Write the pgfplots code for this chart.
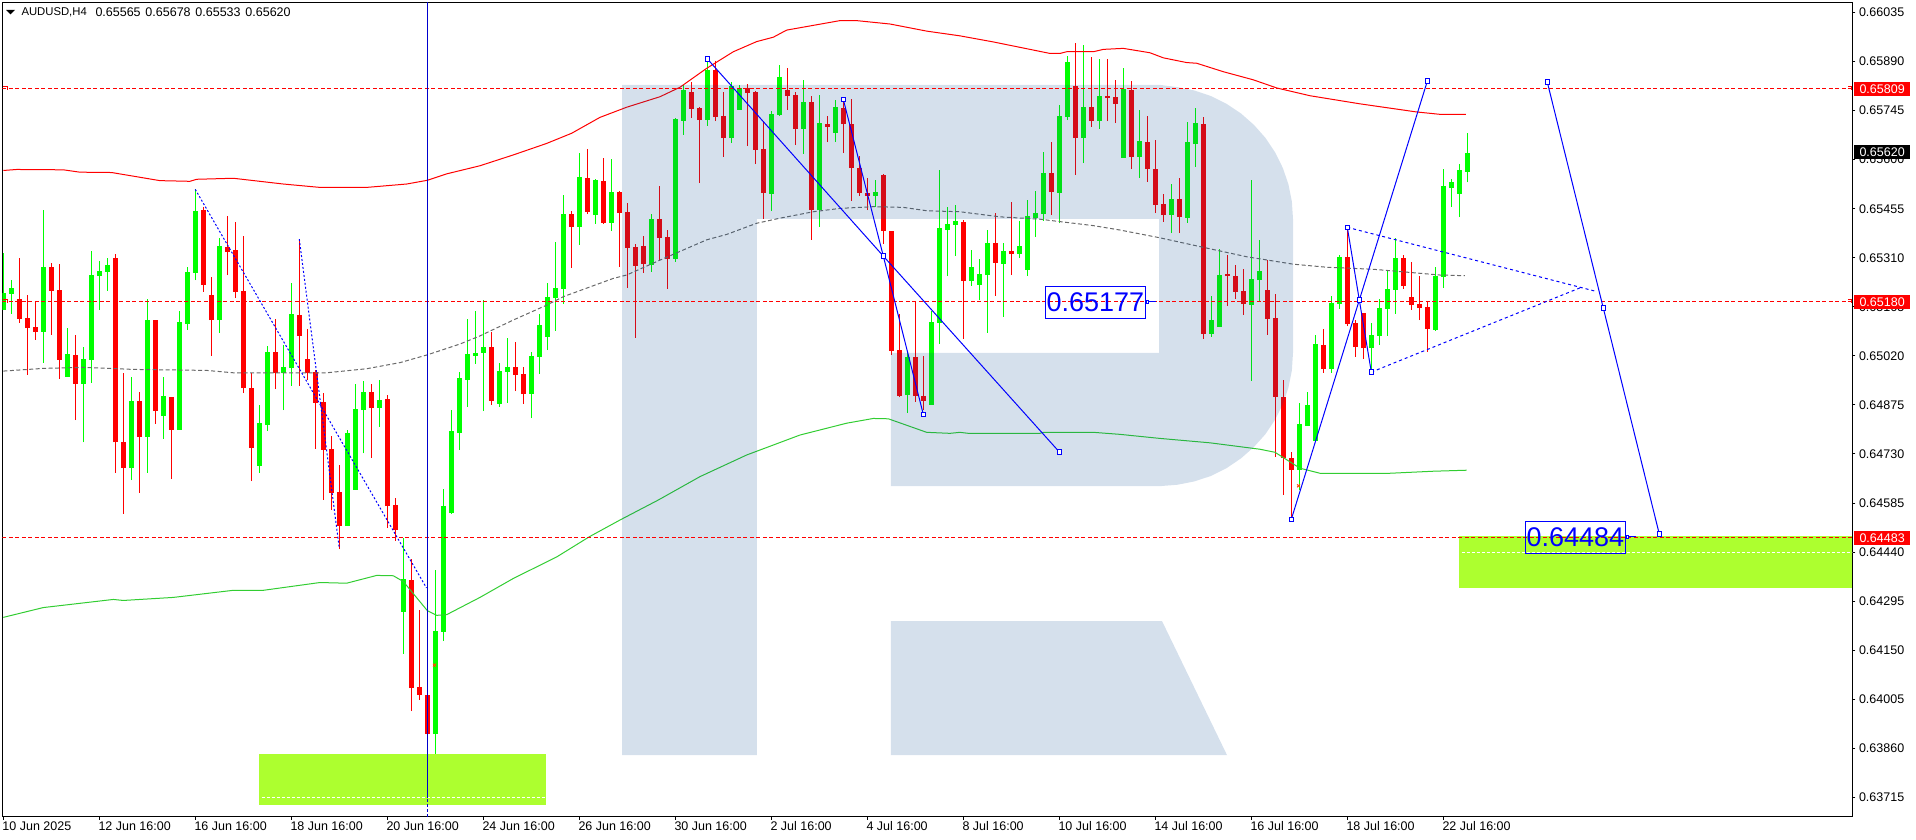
\documentclass[border=0pt]{standalone}
\usepackage{fontspec}
\setmainfont{Liberation Sans}
\usepackage{pgfplots}
\usepackage{pgfplotstable}
\pgfplotsset{compat=1.18}

\definecolor{candleup}{HTML}{00FF00}
\definecolor{candledown}{HTML}{FF0000}
\definecolor{maline}{HTML}{32CD32}
\definecolor{midline}{HTML}{696969}
\definecolor{zonefill}{HTML}{ADFF2F}
\definecolor{logo}{HTML}{08498F}
\definecolor{vline}{HTML}{0000CD}

% bars are i open high low close, i = bar number (8 px each)
\pgfplotstableread{
i o h l c
0 0.65156 0.65323 0.65156 0.65205
1 0.65203 0.65244 0.65144 0.65221
5 0.65091 0.65451 0.65000 0.65283
8 0.64958 0.65101 0.64958 0.65026
10 0.64937 0.65045 0.64764 0.65011
11 0.65008 0.65330 0.64941 0.65259
12 0.65256 0.65301 0.65156 0.65271
13 0.65268 0.65310 0.65212 0.65289
16 0.64689 0.64958 0.64653 0.64887
18 0.64781 0.65188 0.64675 0.65126
20 0.64842 0.64958 0.64774 0.64901
22 0.64801 0.65153 0.64801 0.65120
23 0.65114 0.65282 0.65097 0.65268
24 0.65265 0.65512 0.65244 0.65448
27 0.65126 0.65368 0.65088 0.65345
32 0.64695 0.64875 0.64675 0.64821
33 0.64816 0.65049 0.64799 0.65032
35 0.64968 0.65052 0.64860 0.64987
36 0.64984 0.65235 0.64931 0.65144
43 0.64517 0.64801 0.64517 0.64792
44 0.64624 0.64937 0.64624 0.64863
45 0.64860 0.64946 0.64732 0.64913
47 0.64866 0.64949 0.64811 0.64890
50 0.64263 0.64482 0.64139 0.64361
54 0.63902 0.64387 0.63840 0.64207
55 0.64204 0.64627 0.64177 0.64576
56 0.64556 0.64860 0.64553 0.64798
57 0.64792 0.64972 0.64742 0.64955
58 0.64949 0.65129 0.64869 0.65026
59 0.65020 0.65153 0.64996 0.65029
60 0.65029 0.65185 0.64857 0.65046
62 0.64878 0.65000 0.64869 0.64975
63 0.64972 0.65073 0.64881 0.64987
66 0.64907 0.65032 0.64836 0.65020
67 0.65017 0.65144 0.64966 0.65111
68 0.65076 0.65234 0.65037 0.65194
69 0.65191 0.65357 0.65094 0.65221
70 0.65218 0.65496 0.65173 0.65439
72 0.65401 0.65620 0.65348 0.65549
74 0.65436 0.65543 0.65410 0.65540
76 0.65413 0.65602 0.65389 0.65504
81 0.65289 0.65439 0.65268 0.65425
84 0.65306 0.65722 0.65298 0.65720
85 0.65714 0.65821 0.65673 0.65806
88 0.65717 0.65895 0.65700 0.65865
91 0.65664 0.65830 0.65649 0.65818
92 0.65747 0.65821 0.65747 0.65812
96 0.65499 0.65744 0.65448 0.65735
97 0.65732 0.65880 0.65729 0.65844
100 0.65691 0.65836 0.65617 0.65771
102 0.65451 0.65791 0.65401 0.65708
104 0.65679 0.65776 0.65652 0.65755
109 0.65493 0.65540 0.65460 0.65504
113 0.64904 0.65028 0.64851 0.65017
116 0.64875 0.65153 0.64875 0.65120
117 0.65117 0.65570 0.65055 0.65398
118 0.65392 0.65460 0.65256 0.65410
119 0.65407 0.65466 0.65315 0.65419
121 0.65241 0.65333 0.65227 0.65283
122 0.65230 0.65306 0.65185 0.65262
123 0.65259 0.65392 0.65088 0.65354
125 0.65292 0.65354 0.65135 0.65330
127 0.65321 0.65419 0.65309 0.65345
128 0.65274 0.65481 0.65256 0.65434
129 0.65428 0.65507 0.65371 0.65442
130 0.65439 0.65623 0.65419 0.65561
132 0.65501 0.65762 0.65412 0.65729
133 0.65726 0.65906 0.65717 0.65889
135 0.65664 0.65939 0.65590 0.65755
137 0.65714 0.65897 0.65691 0.65788
140 0.65605 0.65871 0.65605 0.65809
142 0.65608 0.65747 0.65546 0.65655
146 0.65436 0.65528 0.65383 0.65484
148 0.65428 0.65711 0.65413 0.65652
149 0.65646 0.65753 0.65578 0.65708
151 0.65085 0.65197 0.65076 0.65126
152 0.65105 0.65336 0.65105 0.65259
156 0.65170 0.65540 0.64946 0.65247
157 0.65244 0.65363 0.65182 0.65271
162 0.64683 0.64881 0.64624 0.64819
163 0.64813 0.64913 0.64813 0.64875
164 0.64768 0.65082 0.64768 0.65055
166 0.64981 0.65197 0.64970 0.65177
167 0.65173 0.65318 0.65159 0.65312
171 0.65043 0.65117 0.64975 0.65082
172 0.65079 0.65188 0.65052 0.65162
173 0.65159 0.65271 0.65079 0.65218
174 0.65215 0.65368 0.65144 0.65309
179 0.65097 0.65283 0.65094 0.65256
180 0.65254 0.65572 0.65221 0.65522
181 0.65516 0.65542 0.65460 0.65534
182 0.65499 0.65587 0.65430 0.65569
183 0.65565 0.65678 0.65533 0.65620
}\bull

\pgfplotstableread{
i o h l c
2 0.65188 0.65308 0.65118 0.65129
3 0.65132 0.65200 0.64964 0.65102
4 0.65105 0.65182 0.65067 0.65091
6 0.65283 0.65294 0.65082 0.65212
7 0.65215 0.65291 0.64952 0.65008
9 0.65023 0.65082 0.64830 0.64937
14 0.65309 0.65321 0.64675 0.64764
15 0.64765 0.64968 0.64553 0.64689
17 0.64887 0.64913 0.64616 0.64781
19 0.65126 0.65126 0.64819 0.64857
21 0.64899 0.64899 0.64656 0.64801
25 0.65451 0.65459 0.65209 0.65230
26 0.65200 0.65253 0.65020 0.65126
28 0.65342 0.65434 0.65259 0.65327
29 0.65333 0.65416 0.65191 0.65209
30 0.65212 0.65374 0.64910 0.64925
31 0.64925 0.64968 0.64650 0.64748
34 0.65032 0.65129 0.64922 0.64968
37 0.65141 0.65365 0.64931 0.65079
38 0.65011 0.65100 0.64949 0.64968
39 0.64972 0.64978 0.64745 0.64881
40 0.64884 0.64909 0.64594 0.64742
41 0.64745 0.64783 0.64564 0.64615
42 0.64618 0.64697 0.64449 0.64517
46 0.64913 0.64937 0.64719 0.64866
48 0.64892 0.64904 0.64511 0.64576
49 0.64580 0.64600 0.64473 0.64506
51 0.64358 0.64420 0.63970 0.64038
52 0.64041 0.64269 0.64003 0.64018
53 0.64018 0.64018 0.63902 0.63902
61 0.65046 0.65092 0.64875 0.64887
64 0.64987 0.65061 0.64916 0.64964
65 0.64966 0.64988 0.64878 0.64907
71 0.65439 0.65448 0.65280 0.65401
73 0.65546 0.65632 0.65439 0.65445
75 0.65537 0.65605 0.65410 0.65413
77 0.65504 0.65507 0.65283 0.65442
78 0.65445 0.65472 0.65221 0.65339
79 0.65342 0.65351 0.65073 0.65286
80 0.65345 0.65374 0.65265 0.65292
82 0.65425 0.65522 0.65303 0.65369
83 0.65371 0.65392 0.65218 0.65306
86 0.65800 0.65830 0.65723 0.65750
87 0.65753 0.65756 0.65531 0.65717
89 0.65865 0.65892 0.65714 0.65726
90 0.65729 0.65800 0.65608 0.65664
93 0.65812 0.65824 0.65640 0.65797
94 0.65800 0.65803 0.65587 0.65629
95 0.65632 0.65714 0.65425 0.65501
98 0.65806 0.65871 0.65747 0.65788
99 0.65791 0.65800 0.65643 0.65691
101 0.65771 0.65788 0.65363 0.65451
103 0.65705 0.65729 0.65652 0.65697
105 0.65753 0.65776 0.65619 0.65705
106 0.65705 0.65779 0.65478 0.65575
107 0.65575 0.65611 0.65493 0.65501
108 0.65501 0.65546 0.65451 0.65493
110 0.65555 0.65558 0.65351 0.65389
111 0.65389 0.65389 0.65023 0.65035
112 0.65037 0.65144 0.64898 0.64901
114 0.65017 0.65182 0.64884 0.64901
115 0.64901 0.65020 0.64860 0.64887
120 0.65416 0.65422 0.65070 0.65241
124 0.65354 0.65441 0.65197 0.65295
126 0.65330 0.65475 0.65259 0.65321
131 0.65561 0.65652 0.65436 0.65504
134 0.65818 0.65945 0.65555 0.65664
136 0.65755 0.65904 0.65697 0.65714
138 0.65788 0.65897 0.65714 0.65782
139 0.65785 0.65836 0.65708 0.65765
141 0.65806 0.65833 0.65572 0.65608
143 0.65652 0.65729 0.65534 0.65572
144 0.65572 0.65658 0.65442 0.65466
145 0.65469 0.65499 0.65416 0.65436
147 0.65484 0.65546 0.65383 0.65431
150 0.65705 0.65726 0.65070 0.65085
153 0.65262 0.65318 0.65167 0.65256
154 0.65256 0.65289 0.65188 0.65209
155 0.65212 0.65277 0.65141 0.65173
158 0.65215 0.65303 0.65082 0.65129
159 0.65132 0.65203 0.64721 0.64899
160 0.64899 0.64949 0.64609 0.64718
161 0.64718 0.64736 0.64545 0.64683
165 0.65052 0.65100 0.64970 0.64981
168 0.65312 0.65392 0.65108 0.65114
169 0.65117 0.65126 0.65017 0.65046
170 0.65146 0.65146 0.65011 0.65043
175 0.65309 0.65318 0.65218 0.65226
176 0.65194 0.65298 0.65156 0.65170
177 0.65173 0.65256 0.65126 0.65161
178 0.65165 0.65179 0.65032 0.65100
}\bear

\pgfplotsset{
  wick/.style={draw=none, mark=none, forget plot,
    error bars/.cd, y dir=plus, y explicit, error mark=none,
    error bar style={line width=1pt, #1}},
  body/.style={draw=none, mark=none, forget plot,
    error bars/.cd, y dir=plus, y explicit, error mark=none,
    error bar style={line width=5pt, line cap=butt, #1}},
  bluehandle/.style={blue, line width=1pt, mark=square*, mark size=2.2pt,
    mark options={solid, fill=white, draw=blue, line width=1pt}},
  levelline/.style={candledown, line width=1pt, dash pattern=on 4pt off 2.5pt},
}

\begin{document}
\begin{tikzpicture}[x=1pt, y=1pt]
\path[use as bounding box] (0,0) rectangle (1916,840);
\begin{axis}[
  at={(2.3pt,23.3pt)}, anchor=south west,
  scale only axis, width=1850pt, height=814.4pt,
  xmin=-0.125, xmax=231.125, ymin=0.636578, ymax=0.660652,
  axis line style={black, line width=1pt},
  tick style={black, line width=1pt},
  major tick length=3pt, tick align=outside,
  xtick pos=bottom, ytick pos=right, yticklabel pos=right,
  xtick={0,12,24,36,48,60,72,84,96,108,120,132,144,156,168,180},
  xticklabels={10 Jun 2025,12 Jun 16:00,16 Jun 16:00,18 Jun 16:00,20 Jun 16:00,24 Jun 16:00,26 Jun 16:00,30 Jun 16:00,2 Jul 16:00,4 Jul 16:00,8 Jul 16:00,10 Jul 16:00,14 Jul 16:00,16 Jul 16:00,18 Jul 16:00,22 Jul 16:00},
  ytick={0.63715,0.63860,0.64005,0.64150,0.64295,0.64440,0.64585,0.64730,0.64875,0.65020,0.65165,0.65310,0.65455,0.65600,0.65745,0.65890,0.66035},
  yticklabels={0.63715,0.63860,0.64005,0.64150,0.64295,0.64440,0.64585,0.64730,0.64875,0.65020,0.65165,0.65310,0.65455,0.65600,0.65745,0.65890,0.66035},
  tick label style={font=\fontsize{12.5}{15}\selectfont},
  xticklabel style={anchor=north west, inner xsep=0pt, inner ysep=0pt, xshift=-1pt, yshift=-2pt},
  yticklabel style={anchor=west, inner xsep=0pt, xshift=3.5pt},
]
% candles
\addplot[wick=candleup] table[x=i, y=l, y error expr=\thisrow{h}-\thisrow{l}] {\bull};
\addplot[wick=candledown] table[x=i, y=l, y error expr=\thisrow{h}-\thisrow{l}] {\bear};
\addplot[body=candleup] table[x=i, y=o, y error expr=\thisrow{c}-\thisrow{o}] {\bull};
\addplot[body=candledown] table[x=i, y=c, y error expr=\thisrow{o}-\thisrow{c}] {\bear};

% envelope around the average
\addplot[candledown, line width=1pt] coordinates {
(0,0.65568)(1.67,0.65571)(7.5,0.65570)(9.58,0.65563)(13.54,0.65562)(19.58,0.65538)(23.33,0.65536)(24.17,0.65542)(28.75,0.65545)(35,0.65528)(39.58,0.65518)(45.42,0.65518)(50.42,0.65528)(53,0.65539)(55.42,0.65558)(59.58,0.65582)
(63.75,0.65614)(67.92,0.65648)(71.04,0.65678)(74.58,0.65725)(77.92,0.65755)(82.08,0.65786)(84.58,0.65814)(87.92,0.65870)(91.25,0.65919)(94.17,0.65949)(96.25,0.65962)(97.92,0.65983)(101.25,0.65997)(104.58,0.66011)(106.67,0.66011)(110.83,0.66001)(115.42,0.65980)(119.58,0.65966)
(123.75,0.65948)(127.92,0.65928)(130.83,0.65914)(132.08,0.65914)(132.92,0.65919)(136.25,0.65919)(137.5,0.65926)(140,0.65929)(143.33,0.65916)(145,0.65901)(147.92,0.65887)(149.17,0.65885)(152.5,0.65860)(156.25,0.65836)(159.17,0.65812)(163.33,0.65789)(169.58,0.65765)(176.67,0.65741)(179.58,0.65734)(182.83,0.65734)};
\addplot[maline, line width=1pt] coordinates {
(0,0.64247)(5,0.64276)(13.75,0.64300)(15,0.64297)(21.25,0.64306)(28.75,0.64327)(32.5,0.64327)(39.58,0.64350)(42.92,0.64348)(46.67,0.64371)(48.75,0.64370)(50,0.64353)(53,0.64267)(54.17,0.64253)(55.42,0.64255)(59.58,0.64306)
(63.75,0.64362)(69.2,0.64426)(73.3,0.64486)(77.1,0.64535)(81.88,0.64594)(87.08,0.64663)(92.92,0.64727)(99.58,0.64786)(105.42,0.64821)(108.75,0.64835)(110.63,0.64834)(115.42,0.64794)(118.33,0.64791)(119.58,0.64794)
(120.63,0.64791)(129.58,0.64791)(130,0.64794)(136.25,0.64794)(139.58,0.64788)(144.58,0.64776)(150.83,0.64763)(157.08,0.64744)(158.96,0.64735)(162.08,0.64688)(164.58,0.64673)(173.33,0.64673)(178.75,0.64679)(182.92,0.64682)};
\addplot[midline, line width=1pt, dash pattern=on 4pt off 2.5pt] coordinates {
(0,0.64975)(5,0.64983)(10,0.64986)(16.25,0.64980)(25.42,0.64977)(28.75,0.64970)(40.42,0.64970)(45.42,0.64982)(49.58,0.65000)(53,0.65023)(57.08,0.65055)(59.58,0.65079)
(63.75,0.65126)(67.92,0.65170)(70,0.65195)(76.25,0.65249)(77.92,0.65259)(82.08,0.65303)(87.92,0.65363)(90.42,0.65379)(94.17,0.65412)(97.08,0.65427)(101.25,0.65446)(104.58,0.65456)(108.75,0.65461)(112.5,0.65459)(115.42,0.65449)(119.58,0.65446)
(124.58,0.65431)(129.58,0.65424)(136.25,0.65405)(139.58,0.65392)(144.58,0.65369)(149.58,0.65343)(155.42,0.65313)(161.25,0.65291)(165.42,0.65282)(171.25,0.65276)(179.58,0.65259)(182.7,0.65257)};

% watermark, laid over the bars
\addplot[fill=logo, fill opacity=0.17, draw=none, forget plot] coordinates {
(77.34,0.65821)(144.59,0.65821)(146.76,0.658144)(148.89,0.658045)(150.95,0.65788)(152.9,0.65765)(154.71,0.657365)(156.34,0.657025)(157.78,0.65664)(158.99,0.65621)(159.95,0.65575)(160.65,0.65526)(161.07,0.65476)(161.21,0.65425)
(161.21,0.65029)(161.07,0.64977)(160.65,0.64927)(159.95,0.64878)(158.99,0.64832)(157.78,0.64789)(156.34,0.64751)(154.71,0.64717)(152.9,0.64688)(150.95,0.64665)(148.89,0.64649)(146.76,0.64639)(144.59,0.64635)
(110.96,0.64635)(110.96,0.65029)(144.46,0.65029)(144.46,0.65425)(94.21,0.65425)(94.21,0.63840)(77.34,0.63840)} -- cycle;
\addplot[fill=logo, fill opacity=0.17, draw=none, forget plot] coordinates {
(110.96,0.64236)(144.84,0.64236)(152.96,0.63840)(110.96,0.63840)} -- cycle;

% target zones
\addplot[fill=zonefill, draw=none, forget plot] coordinates {(31.96,0.63843)(67.84,0.63843)(67.84,0.63692)(31.96,0.63692)} -- cycle;
\addplot[fill=zonefill, draw=none, forget plot] coordinates {(181.96,0.64488)(231.125,0.64488)(231.125,0.64335)(181.96,0.64335)} -- cycle;
\addplot[white, line width=1pt, dash pattern=on 3pt off 2pt] coordinates {(32.3,0.63715)(67.84,0.63715)};
\addplot[white, line width=1pt, dash pattern=on 3pt off 2pt] coordinates {(182.3,0.64440)(231.125,0.64440)};

% levels
\addplot[levelline] coordinates {(-0.125,0.65809)(231.125,0.65809)};
\addplot[levelline] coordinates {(-0.125,0.65180)(231.125,0.65180)};
\addplot[levelline] coordinates {(-0.125,0.64483)(231.125,0.64483)};

% vertical marker
\addplot[vline, line width=1pt] coordinates {(53,0.63713)(53,0.660652)};
\addplot[vline, line width=1pt, dash pattern=on 3pt off 2pt] coordinates {(53,0.636578)(53,0.63713)};

% dashed wave marks
\addplot[blue, line width=1pt, dash pattern=on 2pt off 2pt] coordinates {(24,0.65512)(52.9,0.64334)};
\addplot[blue, line width=1pt, dash pattern=on 2pt off 2pt] coordinates {(37,0.65365)(42,0.64451)};
\addplot[blue, line width=1pt, dash pattern=on 3pt off 3pt] coordinates {(168,0.65400)(199.2,0.65210)};
\addplot[blue, line width=1pt, dash pattern=on 3pt off 3pt] coordinates {(171,0.64972)(197.3,0.65223)};

% solid wave marks
\addplot[bluehandle] coordinates {(88,0.65898)(110,0.65315)(132,0.64736)};
\addplot[bluehandle] coordinates {(105,0.65778)(110,0.65315)(115,0.64847)};
\addplot[bluehandle] coordinates {(161,0.64537)(169.5,0.65185)(178,0.65832)};
\addplot[bluehandle] coordinates {(168,0.65400)(169.5,0.65185)(171,0.64972)};
\addplot[bluehandle] coordinates {(193,0.65829)(200,0.65161)(207,0.64493)};

% price label anchors
\addplot[blue, line width=1pt, mark=square*, mark size=1.3pt, mark options={fill=white}, mark indices={1}] coordinates {(143,0.65180)(144.1,0.65180)};
\addplot[blue, line width=1pt, mark=square*, mark size=1.3pt, mark options={fill=white}, mark indices={1}] coordinates {(203,0.64485)(204.1,0.64485)};

% small crosses
\addplot[only marks, mark=x, mark size=2pt, color=orange!60!red, line width=1pt] coordinates {(53.9,0.64106)(161.9,0.64636)};

\node[draw=blue, line width=1pt, text=blue, inner sep=0pt, minimum width=100.4pt, minimum height=32.6pt,
  font=\fontsize{27}{30}\selectfont] at (axis cs:136.5,0.65178) {0.65177};
\node[draw=blue, line width=1pt, text=blue, inner sep=0pt, minimum width=100.4pt, minimum height=32pt,
  font=\fontsize{27}{30}\selectfont] at (axis cs:196.5,0.64484) {0.64484};
\end{axis}

% header
\fill[black] (6,830) -- (15,830) -- (10.5,825.5) -- cycle;
\node[anchor=west, inner sep=0pt, font=\fontsize{11.3}{15}\selectfont] at (21.3,827.3) {AUDUSD,H4};
\node[anchor=west, inner sep=0pt, font=\fontsize{12.5}{15}\selectfont] at (95.3,827.3)
  {0.65565\hspace{4.8pt}0.65678\hspace{4.8pt}0.65533\hspace{4.8pt}0.65620};

% little level hooks at the line ends
\foreach \yy in {751.3,538.3} {
  \draw[candledown, line width=1pt] (1848,\yy+2.2) -- (1851,\yy+2.2) -- (1851,\yy-1.5);
  \draw[candledown, line width=1pt] (3,\yy+2.2) -- (7.3,\yy+2.2) -- (7.3,\yy-1.5);
}

% price tags on the right scale
\foreach \yy/\lab/\col in {751/0.65809/red, 538/0.65180/red, 688/0.65620/black, 302/0.64483/red} {
  \fill[\col] (1854,\yy-6.85) rectangle (1910,\yy+6.85);
  \node[text=white, anchor=west, inner sep=0pt, font=\fontsize{12.5}{15}\selectfont] at (1859.3,\yy-0.3) {\lab};
}
\end{tikzpicture}
\end{document}
